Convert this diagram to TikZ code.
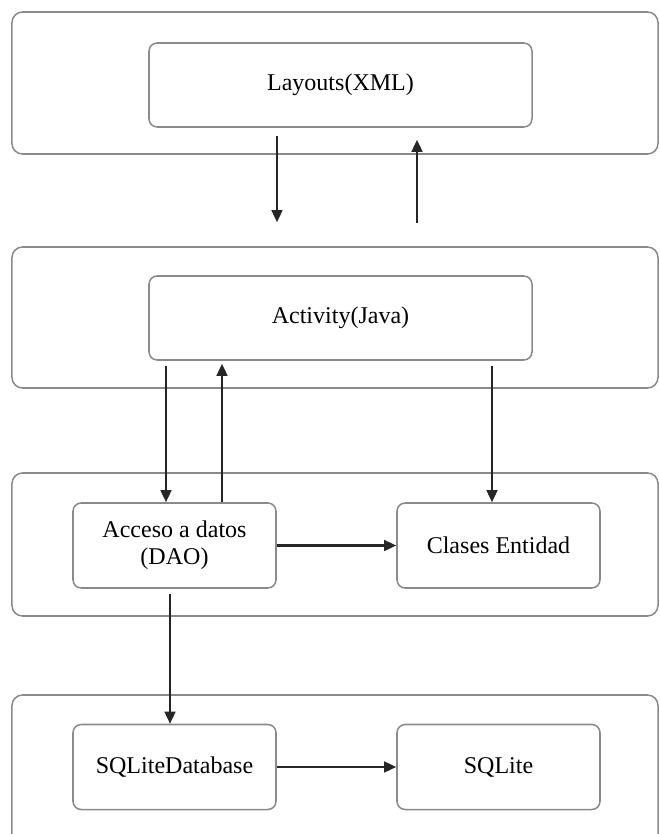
\documentclass[tikz,border=0pt]{standalone}
\usepackage{fontspec}
\setmainfont{Liberation Serif}
\usepackage{tikz}
\usetikzlibrary{arrows.meta,positioning}
\definecolor{borde}{HTML}{8A8A8A}
\definecolor{trazo}{HTML}{262626}
\tikzset{
  capa/.style={draw=borde,line width=1.3pt,rounded corners=9pt,
    minimum width=19.38cm,inner sep=0pt},
  caja/.style={draw=borde,line width=1.3pt,rounded corners=7pt,
    inner sep=0pt,align=center,font=\fontsize{20.5}{23}\selectfont},
  ancha/.style={caja,minimum width=11.49cm,minimum height=2.52cm},
  corta/.style={caja,minimum width=6.09cm,minimum height=2.55cm}
}
\tikzstyle{flecha} = [draw=trazo,line width=2pt,-{Triangle[length=3.6mm,width=3.2mm]}]

\begin{document}
\begin{tikzpicture}[x=0.03cm,y=-0.03cm]
  \useasboundingbox (0,0) rectangle (659,834);

  % --- layers ---
  \node[capa,minimum height=4.26cm] (capa1) at (335,83) {};
  \node[capa,minimum height=4.23cm] (capa2) at (335,317.5) {};
  \node[capa,minimum height=4.29cm] (capa3) at (335,544.5) {};
  \node[capa,minimum height=4.65cm] (capa4) at (335,772.5) {};

  % --- boxes ---
  \node[ancha] (layouts) at (340.5,85) {Layouts(XML)};
  \node[ancha] (activity) at (340.5,318) {Activity(Java)};
  \node[corta] (dao) at (174.5,545.5) {Acceso a datos\\(DAO)};
  \node[corta] (clases) at (498.5,545.5) {Clases Entidad};
  \node[corta] (sqlitedb) at (174.5,767) {SQLiteDatabase};
  \node[corta] (sqlite) at (498.5,767) {SQLite};

  % --- arrows ---
  \draw[flecha,shorten <=0.24cm,shorten >=1.59cm]
    (277,0 |- layouts.south) -- (277,0 |- activity.north);
  \draw[flecha,shorten <=1.56cm,shorten >=0.36cm]
    (417,0 |- activity.north) -- (417,0 |- layouts.south);
  \draw[flecha,shorten <=0.15cm] (166,0 |- activity.south) -- (166,0 |- dao.north);
  \draw[flecha,shorten >=0.09cm] (222,0 |- dao.north) -- (222,0 |- activity.south);
  \draw[flecha,shorten <=0.15cm] (492,0 |- activity.south) -- (492,0 |- clases.north);
  \draw[flecha] (dao.east) -- (clases.west);
  \draw[flecha,shorten <=0.15cm] (170,0 |- dao.south) -- (170,0 |- sqlitedb.north);
  \draw[flecha] (sqlitedb.east) -- (sqlite.west);
\end{tikzpicture}
\end{document}
